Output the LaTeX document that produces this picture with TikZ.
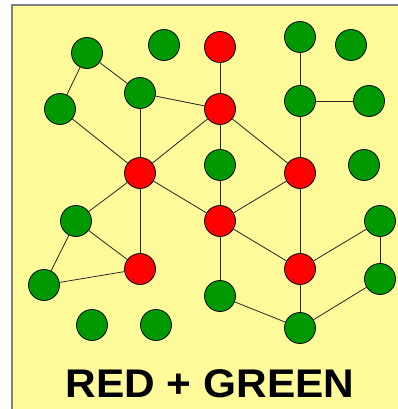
\documentclass[tikz,border=0pt]{standalone}
\usepackage{fontspec}
\setmainfont{Liberation Sans}
\newfontfamily\titlefont{Liberation Sans}
\begin{document}
\begin{tikzpicture}[x=1pt,y=-1pt,
  vtx/.style={circle,draw=black,line width=0.8pt,minimum size=31pt,inner sep=0pt},
  gn/.style={vtx,fill=green!60!black},
  rd/.style={vtx,fill=red},
  edge/.style={draw=black!85,line width=0.8pt}]
\useasboundingbox (0,0) rectangle (398,409);
% canvas
\fill[yellow!40] (12,5) rectangle (398,409);
\draw[gray,line width=1.6pt] (12,409) -- (12,5) -- (398,5);
% vertices
\node[gn] (A) at (87,53) {};
\node[gn] (B) at (164,45) {};
\node[gn] (C) at (60,109) {};
\node[gn] (D) at (140,93) {};
\node[rd] (E) at (140,173) {};
\node[rd] (F) at (220,47) {};
\node[rd] (G) at (220,109) {};
\node[gn] (H) at (300,37) {};
\node[gn] (I) at (351,45) {};
\node[gn] (J) at (300,101) {};
\node[gn] (K) at (369,101) {};
\node[gn] (L) at (220,165) {};
\node[rd] (M) at (300,173) {};
\node[gn] (N) at (364,165) {};
\node[gn] (O) at (76,221) {};
\node[rd] (P) at (140,269) {};
\node[gn] (Q) at (44,285) {};
\node[gn] (R) at (92,325) {};
\node[gn] (S) at (156,325) {};
\node[rd] (T) at (220,221) {};
\node[rd] (U) at (300,269) {};
\node[gn] (V) at (380,221) {};
\node[gn] (W) at (380,279) {};
\node[gn] (X) at (220,296) {};
\node[gn] (Y) at (300,328) {};
% edges
\foreach \a/\b in {A/C,A/D,D/G,D/E,C/E,E/G,E/O,E/P,E/T,F/G,G/L,G/M,H/J,J/K,J/M,
  L/T,T/X,M/T,M/U,T/U,U/V,V/W,U/Y,W/Y,X/Y,O/P,O/Q,Q/P}
  \path[edge] (\a) -- (\b);
% title
\node[font=\titlefont\bfseries\fontsize{40}{48}\selectfont,anchor=base,inner sep=0pt] (title) at (210,397) {\scalebox{1.06}[1]{RED + GREEN}};
\end{tikzpicture}
\end{document}
